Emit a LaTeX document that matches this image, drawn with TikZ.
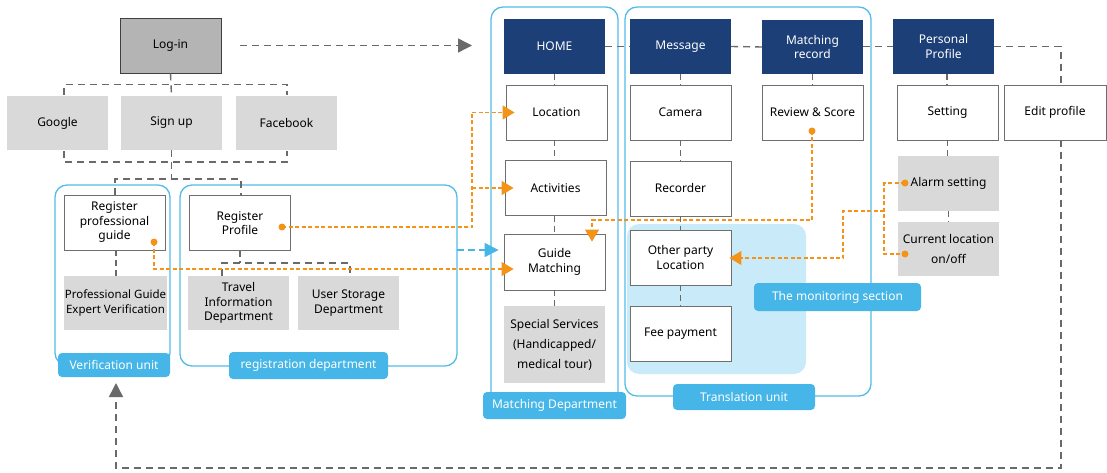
\documentclass[tikz,border=0pt]{standalone}
\usepackage{fontspec}
\setmainfont{Noto Sans}
\usetikzlibrary{arrows.meta}
\definecolor{navy}{HTML}{1C3F78}
\definecolor{cyanl}{HTML}{52BCE8}
\definecolor{cyanf}{HTML}{45B6E7}
\definecolor{lightb}{HTML}{C9EAF8}
\definecolor{org}{HTML}{F39419}
\definecolor{gbox}{HTML}{D9D9DA}
\definecolor{gline}{HTML}{6A6A6A}
\definecolor{loginc}{HTML}{B4B4B4}
\definecolor{bord}{HTML}{6F6F6F}
\tikzset{
  base/.style={minimum width=101pt, minimum height=55pt, inner sep=1pt, align=center, font=\fontsize{12}{14.5}\selectfont},
  wbox/.style={base, draw=bord, fill=white, line width=0.9pt},
  gybox/.style={base, fill=gbox},
  nbox/.style={base, fill=navy, text=white},
  cont/.style={draw=cyanl, line width=1.3pt, rounded corners=12pt},
  tagbox/.style={fill=cyanf, text=white, rounded corners=4pt, inner sep=0pt, font=\fontsize{12}{14}\selectfont},
  gdash/.style={draw=gline, line width=1.4pt, dash pattern=on 7pt off 5pt},
  sdash/.style={draw=gline, line width=1.2pt, dash pattern=on 6pt off 4pt},
  odash/.style={color=org, line width=1.3pt, dash pattern=on 4pt off 2.5pt},
  bdash/.style={draw=cyanf, line width=1.3pt, dash pattern=on 7pt off 4pt},
  otip/.style={-{Triangle[length=12pt,width=14pt]}},
  gtip/.style={-{Triangle[length=14pt,width=14pt]}},
  odot/.style={circle, fill=org, inner sep=0pt, minimum size=7pt},
}
\begin{document}
\begin{tikzpicture}[x=1pt,y=-1pt]
\useasboundingbox (0,0) rectangle (1107,473);
% containers
\draw[cont] (55,185) rectangle (170,365);
\draw[cont] (180,185) rectangle (457,366);
\draw[cont] (491,7) rectangle (618,405);
\draw[cont] (625,7) rectangle (871,396);
\fill[lightb, rounded corners=12pt] (627,224) rectangle (806,374);

% nodes
\node[base, fill=loginc, draw=black!75, line width=0.9pt] (login) at (170.5,45.5) {Log-in};
\node[gybox, minimum height=54pt] (google) at (57.5,123) {Google};
\node[gybox, minimum height=54pt] (signup) at (171.5,123) {Sign up};
\node[gybox, minimum height=54pt] (facebook) at (286.5,123) {Facebook};

\node[wbox] (rpg) at (114.5,222.5) {Register\\professional\\guide};
\node[gybox, minimum height=54pt, font=\fontsize{11.5}{15}\selectfont] (pgev) at (115.5,303) {Professional Guide\\Expert Verification};
\node[wbox] (rprof) at (240,223) {Register\\Profile};
\node[gybox, minimum height=54pt] (tid) at (238.5,303) {Travel\\Information\\Department};
\node[gybox, minimum height=54pt] (usd) at (348.5,303) {User Storage\\Department};

\node[nbox] (home) at (554.5,46.5) {HOME};
\node[wbox] (loc) at (556.5,112.5) {Location};
\node[wbox] (act) at (555.5,188) {Activities};
\node[wbox, minimum height=56pt] (gm) at (554.5,262) {Guide\\Matching};
\node[gybox, minimum height=77pt, font=\fontsize{12}{20}\selectfont] (ss) at (554.5,344.5) {Special Services\\(Handicapped/\\medical tour)};

\node[nbox] (msg) at (680.5,46.5) {Message};
\node[nbox, minimum height=54pt] (mr) at (812.5,47) {Matching\\record};
\node[wbox] (cam) at (680.5,112.5) {Camera};
\node[wbox] (rs) at (812.5,112.5) {Review \& Score};
\node[wbox] (rec) at (680.5,188.5) {Recorder};
\node[wbox] (opl) at (680.5,257.5) {Other party\\Location};
\node[wbox] (fee) at (680.5,333.5) {Fee payment};

\node[nbox] (pp) at (943.5,46.5) {Personal\\Profile};
\node[wbox] (set) at (947.5,112.5) {Setting};
\node[wbox, minimum width=102pt] (ep) at (1055,112.5) {Edit profile};
\node[gybox] (alarm) at (948.5,183.5) {Alarm setting};
\node[gybox, minimum height=54pt, font=\fontsize{12}{20}\selectfont] (cur) at (948.5,249) {Current location\\on/off};

% gray dashed connectors
\coordinate (homein) at (472,45.5);
\draw[gdash, gtip] ([xshift=19pt]login.east) -- (homein);
\draw[gdash] (login.south) -- (signup.north);
\draw[gdash] (64,95) -- (64,84.5) -- (287,84.5) -- (287,95);
\draw[gdash] (64,151) -- (64,162) -- (287,162) -- (287,151);
\draw[gdash] (signup.south) -- (171.5,179);
\draw[gdash] (115,195) -- (115,179) -- (241,179) -- (241,195);
\draw[sdash] (rpg.south -| 116,0) -- (pgev.north -| 116,0);
\draw[sdash] (rprof.south) -- (240,263);
\draw[gdash] (222,276) -- (222,263) -- (350,263) -- (350,276);

\draw[sdash] (home.south) -- (loc.north -| home.south);
\draw[sdash] (loc.south -| home.south) -- (act.north -| home.south);
\draw[sdash] (act.south -| home.south) -- (gm.north -| home.south);
\draw[sdash] (gm.south) -- (ss.north);
\draw[sdash] (msg.south) -- (cam.north);
\draw[sdash] (cam.south) -- (rec.north);
\draw[sdash] (rec.south) -- (opl.north);
\draw[sdash] (opl.south) -- (fee.north);
\draw[sdash] (mr.south) -- (rs.north);
\draw[sdash] (pp.south -| 947,0) -- (set.north -| 947,0);
\draw[sdash] (set.south) -- (alarm.north -| set.south);
\draw[sdash] (alarm.south) -- (cur.north);

\draw[gdash] (home.east) -- (msg.west);
\draw[gdash] (msg.east) -- (mr.west);
\draw[gdash] (mr.east |- msg.east) -- (pp.west);
\draw[gdash] (pp.east) -| ([xshift=6pt]ep.north);
\coordinate (vbot) at (116,383);
\draw[gdash, gtip] ([xshift=6pt]ep.south) -- (1061,468) -- (116,468) -- (vbot);

% blue arrow
\draw[bdash, -{Triangle[length=14pt,width=14pt]}] (457,250) -- ([xshift=-5pt,yshift=12pt]gm.west);

% orange connectors
\draw[odash] (282,227) -- (472,227) -- (472,112.5);
\draw[odash, otip] (472,112.5) -- ([xshift=9pt]loc.west);
\draw[odash, otip] (472,188) -- ([xshift=9pt]act.west);
\draw[odash, otip] (154,242) -- (154,269) -- ([xshift=10pt,yshift=-7pt]gm.west);
\draw[odash, otip] (812,131) -- (812,220) -- (592,220) -- ([xshift=37.5pt,yshift=-8pt]gm.north);
\draw[odash] (905,183) -- (884,183) -- (884,254) -- (905,254);
\draw[odash, otip] (884,211) -- (843,211) -- (843,258) -- ([xshift=-2pt]opl.east |- 0,258);
\node[odot] (d1) at (282,227) {};
\node[odot] (d2) at (154,242) {};
\node[odot] (d3) at (812,131) {};
\node[odot] (d4) at (905,183) {};
\node[odot] (d5) at (905,254) {};

% tags
\node[tagbox, minimum width=112pt, minimum height=24pt] (tv) at (114,365) {Verification unit};
\node[tagbox, minimum width=159pt, minimum height=27pt] (tr) at (308.5,365.5) {registration department};
\node[tagbox, minimum width=143pt, minimum height=27pt] (tm) at (554.5,405.5) {Matching Department};
\node[tagbox, minimum width=142pt, minimum height=26pt] (tt) at (744,397) {Translation unit};
\node[tagbox, minimum width=167pt, minimum height=28pt] (tms) at (837.5,297) {The monitoring section};
\end{tikzpicture}
\end{document}
